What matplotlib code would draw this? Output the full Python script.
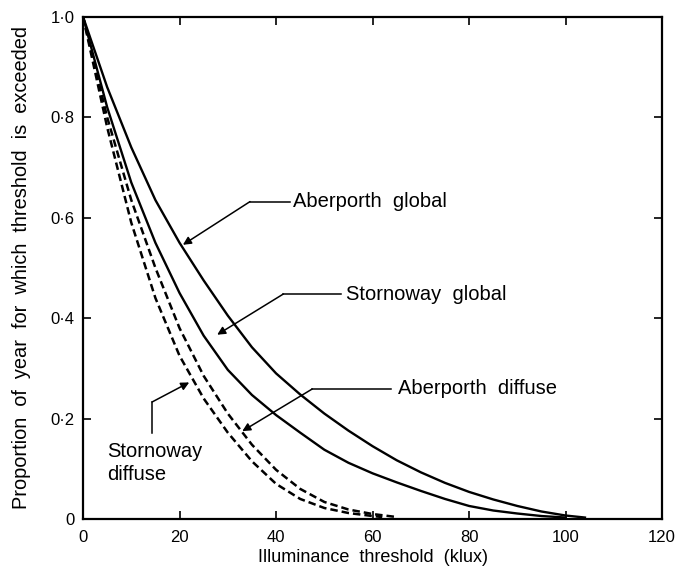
import matplotlib
matplotlib.use("Agg")
import matplotlib.pyplot as plt

plt.rcParams['font.family'] = ['Liberation Sans', 'DejaVu Sans']

# Data
x_ab_global = [0, 5, 10, 15, 20, 25, 30, 35, 40, 45, 50, 55, 60, 65, 70, 75, 80, 85, 90, 95, 100, 104]
y_ab_global = [1.0, 0.86, 0.74, 0.635, 0.55, 0.475, 0.405, 0.342, 0.29, 0.248, 0.21, 0.176, 0.145, 0.117, 0.093, 0.072, 0.054, 0.039, 0.026, 0.015, 0.007, 0.003]

x_st_global = [0, 5, 10, 15, 20, 25, 30, 35, 40, 45, 50, 55, 60, 65, 70, 75, 80, 85, 90, 95, 100]
y_st_global = [1.0, 0.82, 0.67, 0.55, 0.45, 0.365, 0.297, 0.247, 0.207, 0.172, 0.138, 0.112, 0.091, 0.073, 0.056, 0.04, 0.026, 0.017, 0.011, 0.006, 0.003]

x_ab_diffuse = [0, 5, 10, 15, 20, 25, 30, 35, 40, 45, 50, 55, 60, 65]
y_ab_diffuse = [1.0, 0.80, 0.635, 0.50, 0.38, 0.285, 0.21, 0.148, 0.098, 0.06, 0.034, 0.019, 0.01, 0.004]

x_st_diffuse = [0, 5, 10, 15, 20, 25, 30, 35, 40, 45, 50, 55, 60, 62]
y_st_diffuse = [1.0, 0.78, 0.59, 0.44, 0.325, 0.24, 0.172, 0.115, 0.07, 0.04, 0.022, 0.012, 0.006, 0.004]

x_ticks = [0, 20, 40, 60, 80, 100, 120]
y_ticks = [0, 0.2, 0.4, 0.6, 0.8, 1.0]
y_tick_labels = ['0', '0·2', '0·4', '0·6', '0·8', '1·0']

fig = plt.figure(figsize=(6.75, 5.78), dpi=100)
ax = fig.add_axes([0.123, 0.102, 0.858, 0.869])

ax.plot(x_ab_global, y_ab_global, color='black', lw=1.7)
ax.plot(x_st_global, y_st_global, color='black', lw=1.7)
ax.plot(x_ab_diffuse, y_ab_diffuse, color='black', lw=1.8, dashes=(3, 1.6))
ax.plot(x_st_diffuse, y_st_diffuse, color='black', lw=1.8, dashes=(3, 1.6))

ax.set_xlim(0, 120)
ax.set_ylim(0, 1.0)
ax.set_xticks(x_ticks)
ax.set_xticklabels([str(v) for v in x_ticks])
ax.set_yticks(y_ticks)
ax.set_yticklabels(y_tick_labels)
ax.tick_params(direction='in', length=6, width=1.2, top=True, right=True,
               labelsize=12, pad=6)
ax.tick_params(axis='x', pad=8)
for s in ax.spines.values():
    s.set_linewidth(1.6)

ax.set_xlabel('Illuminance  threshold  (klux)', fontsize=13, labelpad=3)
ax.set_ylabel('Proportion  of  year  for  which  threshold  is  exceeded',
              fontsize=14.4, labelpad=14)

arrow = dict(arrowstyle='-|>', color='black', lw=1.1, mutation_scale=12,
             shrinkA=0, shrinkB=0)
fs = 14.5

# Aberporth global
ax.plot([34.6, 42.8], [0.632, 0.632], color='black', lw=1.1)
ax.annotate('', xy=(20.7, 0.546), xytext=(34.6, 0.632), arrowprops=arrow)
ax.text(43.6, 0.632, 'Aberporth  global', fontsize=fs, va='center', ha='left')

# Stornoway global
ax.plot([41.5, 53.4], [0.448, 0.448], color='black', lw=1.1)
ax.annotate('', xy=(27.8, 0.367), xytext=(41.5, 0.448), arrowprops=arrow)
ax.text(54.4, 0.448, 'Stornoway  global', fontsize=fs, va='center', ha='left')

# Aberporth diffuse
ax.plot([47.5, 63.8], [0.259, 0.259], color='black', lw=1.1)
ax.annotate('', xy=(33.0, 0.175), xytext=(47.5, 0.259), arrowprops=arrow)
ax.text(65.2, 0.259, 'Aberporth  diffuse', fontsize=fs, va='center', ha='left')

# Stornoway diffuse
ax.plot([14.3, 14.3], [0.171, 0.233], color='black', lw=1.1)
ax.annotate('', xy=(22.0, 0.272), xytext=(14.3, 0.233), arrowprops=arrow)
ax.text(5.0, 0.112, 'Stornoway\ndiffuse', fontsize=fs, va='center', ha='left',
        linespacing=1.27)

fig.savefig('out.png', dpi=100)
